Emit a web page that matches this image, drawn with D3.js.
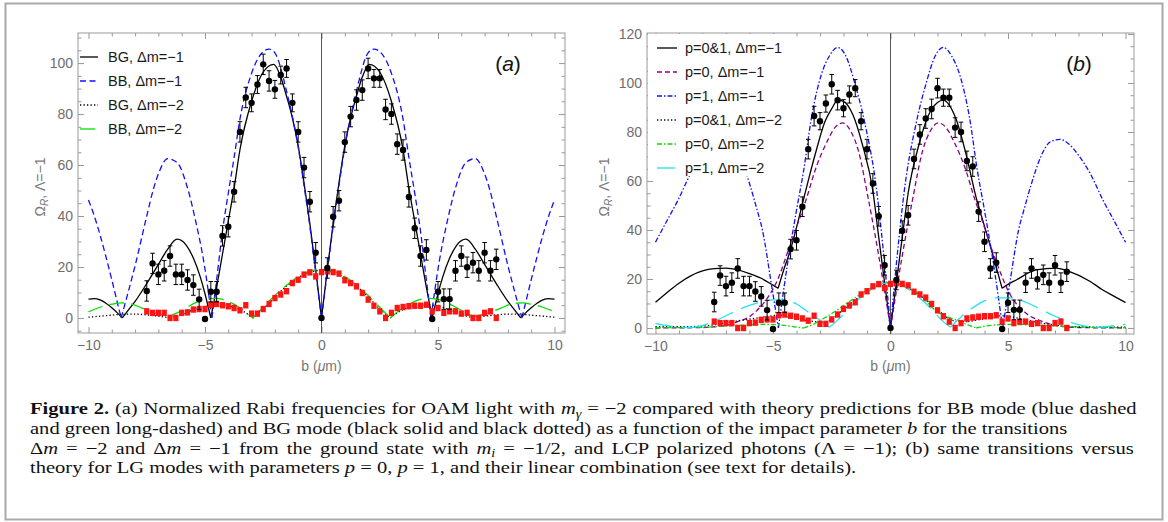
<!DOCTYPE html>
<html><head><meta charset="utf-8">
<script src="https://cdn.jsdelivr.net/npm/d3@7"></script>
<style>
html,body{margin:0;padding:0;background:#fff}
svg{display:block}
.tk text{font-family:"Liberation Sans",Arial,sans-serif;font-size:14px;fill:#6e6e6e}
.tk line{stroke:#999;stroke-width:1}
.tk path{display:none}
</style></head>
<body>
<svg id="c" width="1168" height="522"></svg>
<script>
// ---------------- DATA ----------------
const bPts = [-7.5,-7.25,-7,-6.75,-6.5,-6.25,-6,-5.75,-5.5,-5.25,-5,-4.75,-4.5,-4.25,-4,-3.75,-3.5,-3.25,-3,-2.75,-2.5,-2.25,-2,-1.75,-1.5,-1.25,-1,-0.75,-0.5,-0.25,0,0.25,0.5,0.75,1,1.25,1.5,1.75,2,2.25,2.5,2.75,3,3.25,3.5,3.75,4,4.25,4.5,4.75,5,5.25,5.5,5.75,6,6.25,6.5,6.75,7,7.25,7.5];
const omegaDm1 = [10.6,21.4,17.1,18.5,24.3,17.1,17.1,14.9,12.9,7.3,-0.4,10.3,10.3,32.2,35.8,49.5,73,86.5,84.4,91.6,99.5,93,89.7,95.3,97.9,84.4,73,59,45.6,25.6,0,19.6,39.7,46,69,79,85.5,89.4,97.9,94,94,81.8,80,68.2,65.9,47.5,35.2,24.3,26.7,-0.4,10.3,7.4,7.4,18.5,24.3,19.9,21.7,18.5,25.6,18.5,23];
const errDm1 = [4,4,4,4,4,4,4,4,4,4,0,4,4,4,4,4,4,4,3.5,3.5,4,4,3.5,3.5,3.5,3.5,4,4,4,4,0,4,4,4,4,4,4,4,4,3.5,3.5,4,4,4,4,4,4,4,4,0,4,4,4,4,4,4,4,4,4,4,4];
const omegaDm2 = [2.6,2,2,2,0,0,2,2.2,3.3,3.5,3.5,5.2,5.5,5,4.6,3.9,3,5,1.7,1.7,3.5,5.5,7.8,9.2,10.5,13.7,15,17,17.9,16.3,18,18.3,18,17.4,14.8,13.7,12.4,9.8,7.2,4.8,2.6,0,2,3.9,4.3,4.6,4.8,4.8,5.2,2.6,3.9,2,2.6,2.6,1.7,2,0,0,2,2.6,0];

// panel (a) theory curves [b, Omega]
const bgDm1 = [[-10,7.4],[-9.75,7.6],[-9.5,7.1],[-9.25,5.8],[-9,4],[-8.75,1.9],[-8.55,0],[-8.3,3],[-8,6.5],[-7.5,13.5],[-7,21],[-6.6,27],[-6.2,30.9],[-5.8,28.5],[-5.5,23.5],[-5.2,16],[-5,9.5],[-4.75,0],[-4.5,12],[-4.25,25],[-4,38],[-3.75,51],[-3.5,66],[-3,85],[-2.5,96.5],[-2.05,99.5],[-1.75,94.5],[-1.5,87],[-1.25,78.5],[-1,67.5],[-0.75,53],[-0.5,37],[-0.25,19],[0,0],[0.25,19],[0.5,37],[0.75,53],[1,67.5],[1.25,78.5],[1.5,87],[1.75,94.5],[2.05,99.5],[2.5,96.5],[3,85],[3.5,66],[3.75,51],[4,38],[4.25,25],[4.5,12],[4.75,0],[5,9.5],[5.2,16],[5.5,23.5],[5.8,28.5],[6.2,30.9],[6.6,27],[7,21],[7.5,13.5],[8,6.5],[8.3,3],[8.55,0],[8.75,1.9],[9,4],[9.25,5.8],[9.5,7.1],[9.75,7.6],[10,7.4]];
const bbDm1 = [[-10,46.3],[-9.75,40],[-9.5,32.5],[-9.25,24],[-9,15],[-8.8,7.5],[-8.6,0],[-8.3,10],[-8,20.5],[-7.5,40],[-7.2,51],[-7,56.5],[-6.6,62.5],[-6.2,61],[-5.75,51],[-5.4,38],[-5.05,22],[-4.7,0],[-4.5,15],[-4.25,34],[-4,49],[-3.75,63],[-3.5,78],[-3,96],[-2.5,104.5],[-2.25,105.5],[-2,104],[-1.5,89],[-1,67],[-0.75,52],[-0.5,36],[-0.25,18],[0,0],[0.25,18],[0.5,36],[0.75,52],[1,67],[1.5,89],[2,104],[2.25,105.5],[2.5,104.5],[3,96],[3.5,78],[3.75,63],[4,49],[4.25,34],[4.5,15],[4.7,0],[5.05,22],[5.4,38],[5.75,51],[6.2,61],[6.6,62.5],[7,56.5],[7.2,51],[7.5,40],[8,20.5],[8.3,10],[8.6,0],[8.8,7.5],[9,15],[9.25,24],[9.5,32.5],[9.75,40],[10,46.3]];
const bgDm2 = [[-10,0.3],[-9.5,0.7],[-9,1.1],[-8.6,1.4],[-8,1.5],[-7.5,1.2],[-7,0.7],[-6.5,0],[-6,1.4],[-5.5,3.2],[-5,4.6],[-4.5,5.2],[-4,4.8],[-3.5,3.3],[-3.2,1.7],[-2.95,0],[-2.5,3.5],[-2,8.3],[-1.5,12.5],[-1,15.8],[-0.5,18],[0,18.7],[0.5,18],[1,15.8],[1.5,12.5],[2,8.3],[2.5,3.5],[2.95,0],[3.2,1.7],[3.5,3.3],[4,4.8],[4.5,5.2],[5,4.6],[5.5,3.2],[6,1.4],[6.5,0],[7,0.7],[7.5,1.2],[8,1.5],[8.6,1.4],[9,1.1],[9.5,0.7],[10,0.3]];
const bbDm2 = [[-10,2.4],[-9.5,4.2],[-9,5.4],[-8.6,5.9],[-8.2,5.6],[-7.7,3.9],[-7.2,2.1],[-6.8,1.1],[-6.55,0.6],[-6.2,2],[-5.8,4],[-5.4,6],[-5,7.3],[-4.6,7.7],[-4.2,7.2],[-3.8,5.6],[-3.4,3.3],[-2.95,0],[-2.5,4.2],[-2,8.8],[-1.5,12.8],[-1,16.2],[-0.5,18.4],[0,19],[0.5,18.4],[1,16.2],[1.5,12.8],[2,8.8],[2.5,4.2],[2.95,0],[3.4,3.3],[3.8,5.6],[4.2,7.2],[4.6,7.7],[5,7.3],[5.4,6],[5.8,4],[6.2,2],[6.55,0.6],[6.8,1.1],[7.2,2.1],[7.7,3.9],[8.2,5.6],[8.6,5.9],[9,5.4],[9.5,4.2],[10,2.4]];

// panel (b) theory curves [b, Omega]
const lg01Dm1 = [[-10,10.5],[-9.5,14.5],[-9,18.3],[-8.5,21.3],[-8,23.3],[-7.5,24.2],[-7,24.4],[-6.5,23.7],[-6,22.2],[-5.5,20.3],[-5,17.5],[-4.78,16.2],[-4.5,25],[-4.3,30.5],[-4,41],[-3.7,52.5],[-3.45,62],[-3.2,71],[-2.8,84],[-2.5,89.5],[-2.24,93],[-2,92.5],[-1.6,87],[-1.2,75],[-0.75,56],[-0.5,37],[-0.25,18.5],[0,0],[0.25,18.5],[0.5,37],[0.75,55],[1.2,74.5],[1.6,86.5],[2,92],[2.24,93],[2.5,91],[2.8,85],[3.2,71.5],[3.65,53],[4,41.5],[4.35,30],[4.75,16.2],[5,17.8],[5.35,19.6],[6.2,23.7],[7.05,24.4],[7.62,23],[8.5,19],[9,15.7],[9.5,13],[10,10.4]];
const lg0Dm1 = [[-10,0],[-8,0.2],[-7.5,0.5],[-7,1],[-6.5,2.6],[-6,4.6],[-5.7,7],[-5.15,13.5],[-4.86,18.5],[-4.3,33],[-3.93,43],[-3.57,53],[-3.22,64],[-2.65,77],[-2.35,82],[-2.03,83.7],[-1.7,80.5],[-1.37,72.5],[-0.95,53],[-0.5,29.5],[0,0],[0.5,29.5],[0.95,53],[1.37,72.5],[1.7,80.5],[2.03,83.7],[2.35,82],[2.65,77],[3.22,64],[3.57,53],[3.93,43],[4.5,27],[5.06,14.2],[5.77,6],[6.48,2.6],[7.05,1],[8,0.2],[10,0]];
const lg1Dm1 = [[-10,35],[-9.5,44],[-9.05,52],[-8.5,63],[-8,70.5],[-7.6,75],[-7.2,77],[-6.8,76],[-6.4,70],[-6,59],[-5.7,49],[-5.45,40],[-5.07,18],[-4.77,0],[-4.4,25],[-4,48],[-3.7,64],[-3.36,86],[-2.94,103.5],[-2.6,111],[-2.25,114.5],[-1.9,111],[-1.52,100],[-1.09,83.5],[-0.6,57],[-0.3,31],[0,0],[0.3,31],[0.6,57],[1.09,83.5],[1.52,100],[1.9,111],[2.25,114.5],[2.6,111],[2.94,103.5],[3.36,86],[3.7,64],[4,48],[4.4,25],[4.77,0],[5.07,18],[5.45,40],[5.7,49],[6,59],[6.4,70],[6.8,76],[7.2,77],[7.6,75],[8,70.5],[8.5,63],[9.05,52],[9.5,44],[10,35]];
const lg01Dm2 = [[-10,0.5],[-9,0.5],[-8,0.8],[-7.5,1.3],[-7,2.1],[-6.5,2.9],[-6,3.6],[-5.5,4.3],[-5,5],[-4.78,5.3],[-4.4,4.6],[-4,3.8],[-3.5,3],[-3,2.4],[-2.75,2.3],[-2.5,3.6],[-2,7.5],[-1.5,11.5],[-1,15],[-0.5,17.5],[0,18.5],[0.5,17.5],[1,15],[1.5,11.5],[2,7.5],[2.5,3.8],[2.8,2.7],[3.3,2.6],[4,3.8],[4.75,5],[5.2,4.4],[5.77,3.3],[6.3,2.2],[6.77,1.5],[7.62,0.6],[8.5,0.4],[10,0.3]];
const lg0Dm2 = [[-10,0.1],[-9,0.15],[-8,0.3],[-7,0.8],[-6,1.3],[-5.2,1.5],[-4.6,1.2],[-4.1,0.5],[-3.7,0],[-3.3,1.4],[-2.9,3.6],[-2.4,6.5],[-1.9,9.8],[-1.4,13],[-0.9,16],[-0.4,18.1],[0,18.6],[0.4,18.1],[0.9,16],[1.4,12],[1.94,7],[2.4,4.6],[2.8,3.3],[3.2,1.6],[3.65,0],[4.2,1],[5.06,1.5],[6,1.2],[7.05,0.8],[8.5,0.3],[10,0.1]];
const lg1Dm2 = [[-10,1.8],[-9.5,1],[-9,0.3],[-8.5,0.2],[-8,1],[-7.5,2.8],[-7,5],[-6.5,7.3],[-6,9.2],[-5.5,10.7],[-5,11.5],[-4.6,11.5],[-4,9.8],[-3.5,6.5],[-3,3.2],[-2.6,0.3],[-2.3,2.8],[-2,5.5],[-1.5,10.5],[-1,14.5],[-0.5,17.5],[0,18.5],[0.5,17.3],[1,14.2],[1.5,10],[1.9,6.1],[2.2,3],[2.55,0.3],[3,4.5],[3.35,7.2],[3.93,10.8],[4.5,12.3],[5.06,12.3],[5.63,11],[6,9.5],[6.48,7.2],[7,4.8],[7.62,2.5],[8.2,1],[8.75,0.3],[9.3,0.7],[10,1.5]];

// ticks and labels
const xMajor = [-10,-5,0,5,10];
const xMajorLabels = ["\u221210","\u22125","0","5","10"];
const yMajorA = [0,20,40,60,80,100];
const yMajorB = [0,20,40,60,80,100,120];
const legendA = ["BG, \u0394m=\u22121","BB, \u0394m=\u22121","BG, \u0394m=\u22122","BB, \u0394m=\u22122"];
const legendB = ["p=0&1, \u0394m=\u22121","p=0, \u0394m=\u22121","p=1, \u0394m=\u22121","p=0&1, \u0394m=\u22122","p=0, \u0394m=\u22122","p=1, \u0394m=\u22122"];

// ---------------- DRAW ----------------
const svg = d3.select('#c');
svg.append('rect').attr('x',5.5).attr('y',3.5).attr('width',1157).attr('height',516)
  .attr('fill','none').attr('stroke','#a9a9a9').attr('stroke-width',2);

function cornerSplit(pts){
  const segs=[]; let cur=[pts[0]];
  for(let i=1;i<pts.length;i++){
    cur.push(pts[i]);
    if(i<pts.length-1 && pts[i][1]<pts[i-1][1] && pts[i][1]<=pts[i+1][1]){
      segs.push(cur); cur=[pts[i]];
    }
  }
  segs.push(cur); return segs;
}

function panel(cfg){
  const x = d3.scaleLinear().domain(cfg.xd).range([cfg.l,cfg.r]);
  const y = d3.scaleLinear().domain(cfg.yd).range([cfg.b,cfg.t]);
  const g = svg.append('g');
  const cid='clip'+cfg.name;
  svg.append('defs').append('clipPath').attr('id',cid).append('rect')
     .attr('x',cfg.l).attr('y',cfg.t).attr('width',cfg.r-cfg.l).attr('height',cfg.b-cfg.t);

  const xMinor = d3.range(-10,11,1).filter(v=>xMajor.indexOf(v)<0);
  const yMinor = d3.range(cfg.yMinor[0],cfg.yMinor[1]+0.1,5).filter(v=>cfg.yMajor.indexOf(v)<0);
  const addAx=(gen,tr)=>g.append('g').attr('class','tk').attr('transform',tr).call(gen);
  addAx(d3.axisBottom(x).tickValues(xMajor).tickSize(-6).tickPadding(7).tickFormat((d,i)=>xMajorLabels[i]),`translate(0,${cfg.b})`);
  addAx(d3.axisBottom(x).tickValues(xMinor).tickSize(-3.5).tickFormat(''),`translate(0,${cfg.b})`);
  addAx(d3.axisTop(x).tickValues(xMajor).tickSize(-6).tickFormat(''),`translate(0,${cfg.t})`);
  addAx(d3.axisTop(x).tickValues(xMinor).tickSize(-3.5).tickFormat(''),`translate(0,${cfg.t})`);
  addAx(d3.axisLeft(y).tickValues(cfg.yMajor).tickSize(-6).tickPadding(5).tickFormat(d=>String(d)),`translate(${cfg.l},0)`);
  addAx(d3.axisLeft(y).tickValues(yMinor).tickSize(-3.5).tickFormat(''),`translate(${cfg.l},0)`);
  addAx(d3.axisRight(y).tickValues(cfg.yMajor).tickSize(-6).tickFormat(''),`translate(${cfg.r},0)`);
  addAx(d3.axisRight(y).tickValues(yMinor).tickSize(-3.5).tickFormat(''),`translate(${cfg.r},0)`);

  g.append('rect').attr('x',cfg.l).attr('y',cfg.t).attr('width',cfg.r-cfg.l).attr('height',cfg.b-cfg.t)
    .attr('fill','none').attr('stroke','#9a9a9a').attr('stroke-width',1);
  g.append('line').attr('x1',x(0)).attr('x2',x(0)).attr('y1',cfg.t).attr('y2',cfg.b)
    .attr('stroke','#555').attr('stroke-width',1);

  const line = d3.line().x(d=>x(d[0])).y(d=>y(d[1])).curve(d3.curveMonotoneX);
  const cg = g.append('g').attr('clip-path',`url(#${cid})`);
  cfg.series.forEach(s=>{
    const d = cornerSplit(s.data).map(seg=>line(seg)).join('');
    cg.append('path').attr('d',d).attr('fill','none').attr('stroke',s.color)
      .attr('stroke-width',s.w||1.3).attr('stroke-dasharray',s.dash||null);
  });

  const dg = g.append('g');
  bPts.forEach((b,i)=>{
    dg.append('rect').attr('x',x(b)-2.6).attr('y',y(omegaDm2[i])-3.2).attr('width',5.2).attr('height',6.4).attr('fill','#ff1414');
  });
  bPts.forEach((b,i)=>{
    const v=omegaDm1[i], e=errDm1[i], cx=x(b);
    if(e>0){
      dg.append('line').attr('x1',cx).attr('x2',cx).attr('y1',y(v-e)).attr('y2',y(v+e)).attr('stroke','#000').attr('stroke-width',1);
      [v-e,v+e].forEach(w=>dg.append('line').attr('x1',cx-2.3).attr('x2',cx+2.3).attr('y1',y(w)).attr('y2',y(w)).attr('stroke','#000').attr('stroke-width',1));
    }
    dg.append('circle').attr('cx',cx).attr('cy',y(v)).attr('r',3.2).attr('fill','#000');
  });

  // legend (opaque box)
  if(cfg.legBox) g.append('rect').attr('x',cfg.legBox[0]).attr('y',cfg.legBox[1]).attr('width',cfg.legBox[2]).attr('height',cfg.legBox[3]).attr('fill','#fff');
  cfg.series.forEach((s,i)=>{
    const ly = cfg.legY + i*cfg.legDy;
    g.append('line').attr('x1',cfg.legX).attr('x2',cfg.legX+cfg.legW).attr('y1',ly).attr('y2',ly)
      .attr('stroke',s.color).attr('stroke-width',s.w||1.3).attr('stroke-dasharray',s.dash||null);
    g.append('text').attr('x',cfg.legTx).attr('y',ly+5).text(cfg.legend[i])
      .attr('font-family','"Liberation Sans",Arial,sans-serif').attr('font-size',14.5).attr('fill','#1a1a1a');
  });

  const t = g.append('text').attr('x',cfg.tagX).attr('y',71).attr('text-anchor','middle')
    .attr('font-family','"Liberation Sans",Arial,sans-serif').attr('font-size',21).attr('fill','#111');
  t.append('tspan').text('(');
  t.append('tspan').attr('font-style','italic').text(cfg.tag);
  t.append('tspan').text(')');

  const yl = g.append('text').attr('transform',`translate(${cfg.yLabX},187) rotate(-90)`).attr('text-anchor','middle')
    .attr('font-family','"Liberation Sans",Arial,sans-serif').attr('font-size',14).attr('fill','#777');
  yl.append('tspan').text('\u03A9');
  yl.append('tspan').attr('font-size',10).attr('font-style','italic').attr('dy',3).text('R');
  yl.append('tspan').attr('dy',-3).text(', \u039B=\u22121');
  const xl = g.append('text').attr('x',x(0)).attr('y',371).attr('text-anchor','middle')
    .attr('font-family','"Liberation Sans",Arial,sans-serif').attr('font-size',14).attr('fill','#777');
  xl.append('tspan').text('b (');
  xl.append('tspan').attr('font-style','italic').text('\u03BC');
  xl.append('tspan').text('m)');
}

panel({name:'a', xd:[-10.45,10.45], yd:[-5.9,111.8], l:78, r:565, t:33, b:333,
  yMajor:yMajorA, yMinor:[-5,110],
  series:[
    {data:bgDm1,color:'#000'},
    {data:bbDm1,color:'#1010ff',dash:'6,3.5'},
    {data:bgDm2,color:'#000',dash:'1.3,2.2'},
    {data:bbDm2,color:'#00e000',dash:'15,7'}],
  legend:legendA, legX:80, legW:18, legTx:108, legY:57, legDy:24,
  tag:'a', tagX:508, yLabX:45});

panel({name:'b', xd:[-10.36,10.36], yd:[-2.45,120.4], l:647, r:1134, t:33, b:334,
  yMajor:yMajorB, yMinor:[0,120],
  series:[
    {data:lg01Dm1,color:'#000'},
    {data:lg0Dm1,color:'#8a008a',dash:'5,3'},
    {data:lg1Dm1,color:'#1010ff',dash:'5,2,1.5,2'},
    {data:lg01Dm2,color:'#000',dash:'1.3,2.2'},
    {data:lg0Dm2,color:'#00dd00',dash:'5,2,1.5,2'},
    {data:lg1Dm2,color:'#1fe3f0',dash:'18,9'}],
  legend:legendB, legX:657, legW:20, legTx:685, legY:48, legDy:24, legBox:[648,34,142,142],
  tag:'b', tagX:1079, yLabX:609});

// ---------------- CAPTION ----------------
const capLines = [
  [['b','Figure 2.'],['n',' (a) Normalized Rabi frequencies for OAM light with '],['i','m'],['s','\u03B3'],['n',' = \u22122 compared with theory predictions for BB mode (blue dashed']],
  [['n','and green long-dashed) and BG mode (black solid and black dotted) as a function of the impact parameter '],['i','b'],['n',' for the transitions']],
  [['n','\u0394'],['i','m'],['n',' = \u22122 and \u0394'],['i','m'],['n',' = \u22121 from the ground state with '],['i','m'],['s','i'],['n',' = \u22121/2, and LCP polarized photons (\u039B = \u22121); (b)  same transitions versus']],
  [['n','theory for LG modes with parameters '],['i','p'],['n',' = 0, '],['i','p'],['n',' = 1, and their linear combination (see text for details).']]
];
const capTargets = [1107, 1037, 1107, 827];
const capJustify = [true, false, true, false];
const capBase = [414, 434, 453.5, 473];
const capNodes = capLines.map((parts,li)=>{
  const t = svg.append('text').attr('x',0).attr('y',0)
    .attr('font-family','"Liberation Serif","Times New Roman",serif').attr('font-size',16.5).attr('fill','#111');
  let sub=false, spaces=0;
  parts.forEach(([k,s])=>{
    const sp=t.append('tspan').text(s);
    spaces += (s.match(/ /g)||[]).length;
    if(k==='b') sp.attr('font-weight','bold');
    if(k==='i') sp.attr('font-style','italic');
    if(k==='s'){ sp.attr('font-style','italic').attr('font-size',11.5).attr('dy',3.5); sub=true; }
    else if(sub){ sp.attr('dy',-3.5); sub=false; }
  });
  return {t, w:t.node().getComputedTextLength(), spaces};
});
const sx = (capTargets[1]/capNodes[1].w + capTargets[3]/capNodes[3].w)/2;
capNodes.forEach((c,li)=>{
  let s = sx;
  if(capJustify[li]){
    if(c.w*s > capTargets[li]) s = capTargets[li]/c.w;
    else c.t.attr('word-spacing',((capTargets[li]-c.w*s)/(s*c.spaces)).toFixed(3));
  }
  c.t.attr('transform',`translate(30,${capBase[li]}) scale(${s.toFixed(4)},1)`);
});
</script>
</body></html>
